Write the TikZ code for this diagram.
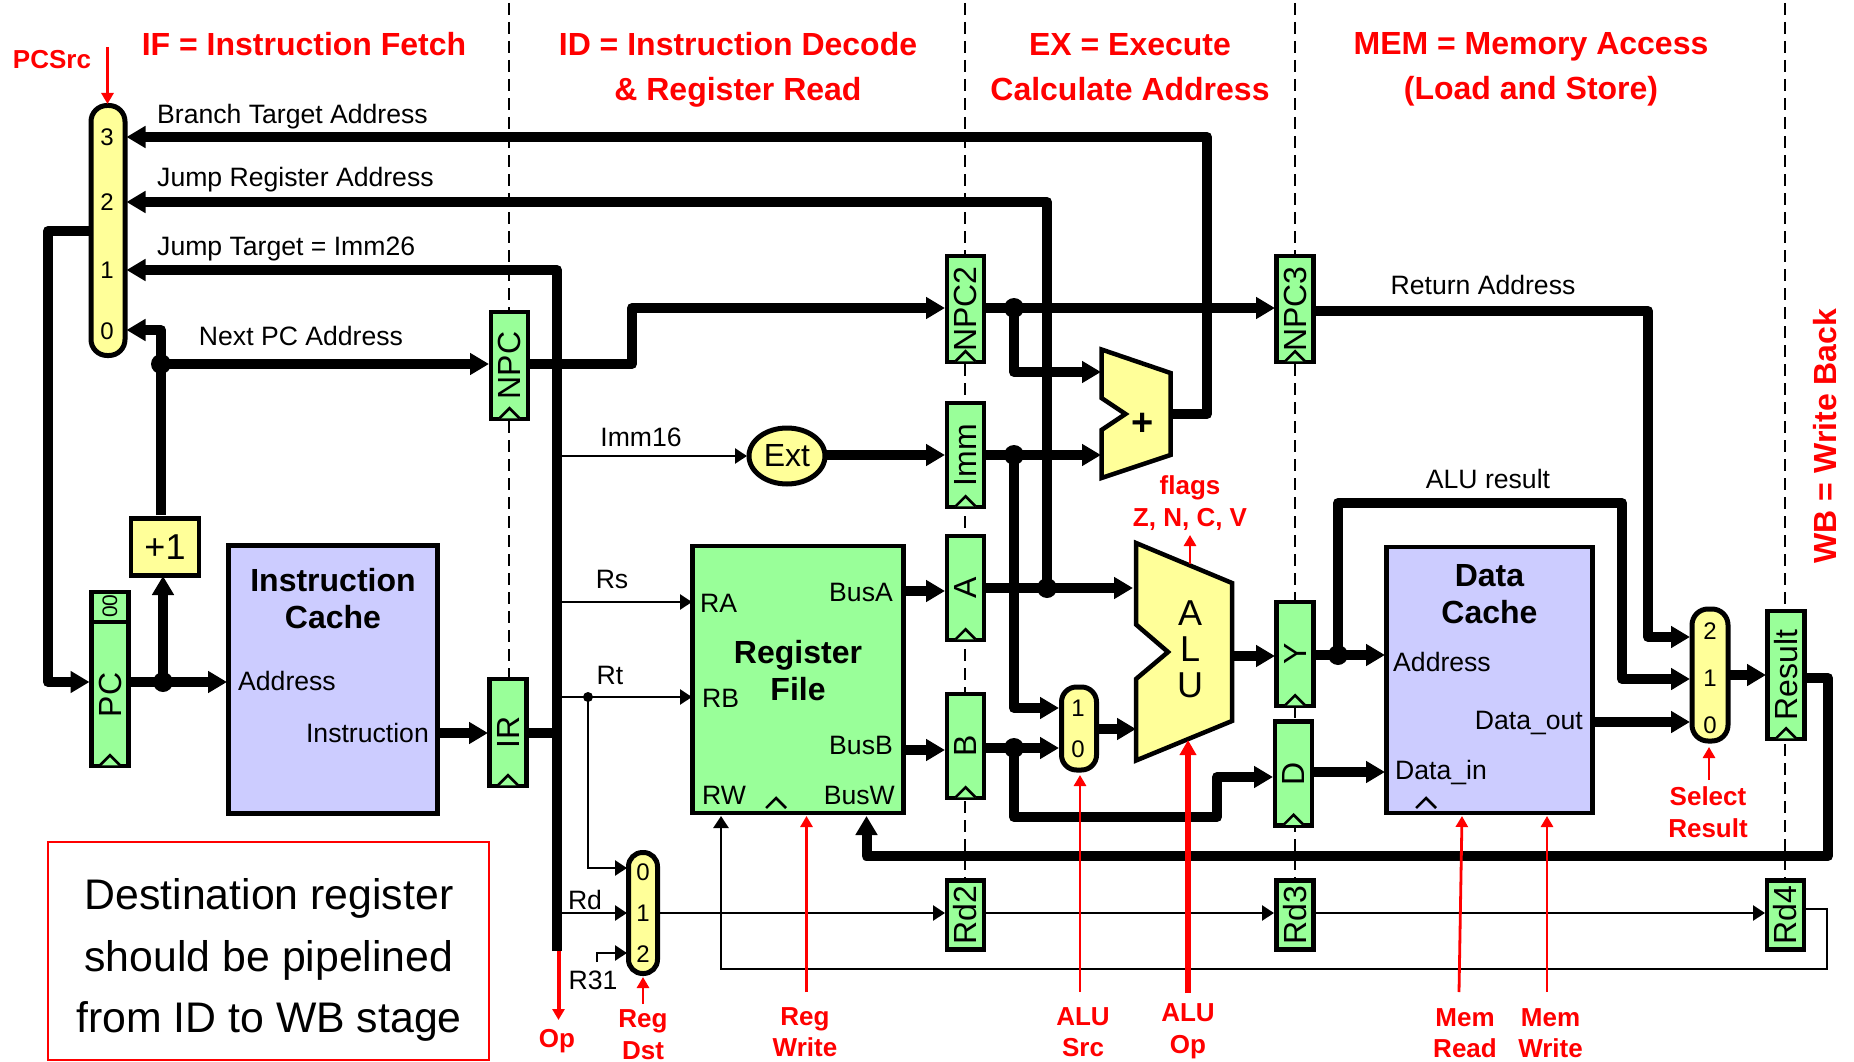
\documentclass[tikz,border=0pt]{standalone}
\usepackage{fontspec}
\setmainfont{Liberation Sans}
\usetikzlibrary{arrows.meta,shapes.geometric}
\definecolor{regg}{HTML}{99FF99}
\definecolor{muxy}{HTML}{FFFF99}
\definecolor{cachec}{HTML}{CCCCFF}
\newcommand{\fs}[2]{\fontsize{#1}{#2}\selectfont}
\newcommand{\clk}[2][regg]{\draw[line width=2.5pt,fill=#1] ([xshift=-10pt,yshift=3pt]#2) -- ([yshift=13pt]#2) -- ([xshift=10pt,yshift=3pt]#2);}
\tikzset{
  x=1pt,y=-1pt,
  stage/.style={black,line width=2.5pt,dash pattern=on 12pt off 7pt},
  reg/.style={draw=black,line width=4.5pt,fill=regg,rectangle,inner sep=0pt,font=\fs{32}{32}},
  mux/.style={draw=black,line width=5pt,fill=muxy,rectangle,inner sep=0pt},
  block/.style={draw=black,line width=4.5pt,rectangle,inner sep=0pt},
  muxnum/.style={font=\fs{24}{24},inner sep=0pt},
  lbl/.style={font=\fs{26.6}{30},inner sep=0pt},
  biglbl/.style={font=\fs{32}{37}\bfseries,inner sep=0pt,align=center},
  title/.style={red,font=\fs{32}{45}\bfseries,inner sep=0pt,align=center},
  ctl/.style={red,font=\fs{26}{31.5}\bfseries,inner sep=0pt,align=center},
  wirebig/.style={line width=10pt,line join=round,-{Triangle[length=19pt,width=21pt]}},
  wirebare/.style={line width=10pt,line join=round},
  wirethin/.style={line width=2.5pt,-{Triangle[length=12pt,width=15pt]}},
  ctlarrow/.style={red,line width=2.8pt,-{Triangle[length=11pt,width=12pt]}},
  dotbig/.style={circle,fill=black,inner sep=0pt,minimum size=20pt},
  dotsmall/.style={circle,fill=black,inner sep=0pt,minimum size=10pt},
}
\begin{document}
\begin{tikzpicture}
\useasboundingbox (0,0) rectangle (1854,1062);
% stage separators
\coordinate (s1t) at (509,3);  \coordinate (s1b) at (509,680);
\coordinate (s2t) at (965,3);  \coordinate (s2b) at (965,880);
\coordinate (s3t) at (1295,3); \coordinate (s3b) at (1295,880);
\coordinate (s4t) at (1785,3); \coordinate (s4b) at (1785,880);
\draw[stage] (s1t) -- (s1b);
\draw[stage] (s2t) -- (s2b);
\draw[stage] (s3t) -- (s3b);
\draw[stage] (s4t) -- (s4b);
% titles
\node[title] (tif) at (304,44) {IF = Instruction Fetch};
\node[title] (tid) at (738,69.5) {ID = Instruction Decode\\\& Register Read};
\node[title] (tex) at (1130,67) {EX = Execute\\Calculate Address};
\node[title] (tmem) at (1531,69.5) {MEM = Memory Access\\(Load and Store)};
\node[title,rotate=90] (twb) at (1825,436) {WB = Write Back};
\node[ctl] (tpcsrc) at (52,60) {PCSrc};
% PC mux
\node[mux,rounded corners=16pt,minimum width=34pt,minimum height=250pt] (pcmux) at (108,230.5) {};
\node[muxnum] (n3) at (107,137) {3};
\node[muxnum] (n2) at (107,202) {2};
\node[muxnum] (n1) at (107,270) {1};
\node[muxnum] (n0) at (107,331) {0};
% registers
\node[reg,minimum width=37pt,minimum height=174pt] (pc) at (110,679) {};
\draw[line width=4.5pt] (pc.north west |- 0,622) -- (pc.north east |- 0,622);
\node[font=\fs{21}{21},inner sep=0pt] (pctwo) at (110,606) {\rotatebox{90}{00}};
\node[font=\fs{32}{32},inner sep=0pt] (pctxt) at (110,695) {\rotatebox{90}{PC}};
\node[reg,minimum width=37pt,minimum height=107pt] (npc) at (509.5,365.5) {\rotatebox{90}{NPC}};
\node[reg,minimum width=37pt,minimum height=107pt] (ir) at (508,732.5) {\rotatebox{90}{IR}};
\node[reg,minimum width=37pt,minimum height=106pt] (npctwo) at (965.5,309) {\rotatebox{90}{NPC2}};
\node[reg,minimum width=37pt,minimum height=104pt] (imm) at (965.5,455) {\rotatebox{90}{Imm}};
\node[reg,minimum width=37pt,minimum height=104pt] (rega) at (965.5,588) {\rotatebox{90}{A}};
\node[reg,minimum width=37pt,minimum height=104pt] (regb) at (965.5,746) {\rotatebox{90}{B}};
\node[reg,minimum width=37pt,minimum height=69pt] (rdtwo) at (965.5,915) {\rotatebox{90}{Rd2}};
\node[reg,minimum width=37pt,minimum height=106pt] (npcthree) at (1295,309) {\rotatebox{90}{NPC3}};
\node[reg,minimum width=37pt,minimum height=104pt] (regy) at (1295,654) {\rotatebox{90}{Y}};
\node[reg,minimum width=37pt,minimum height=104pt] (regd) at (1293.5,773.5) {\rotatebox{90}{D}};
\node[reg,minimum width=37pt,minimum height=69pt] (rdthree) at (1295,915) {\rotatebox{90}{Rd3}};
\node[reg,minimum width=37pt,minimum height=128pt] (result) at (1786,675) {\rotatebox{90}{Result}};
\node[reg,minimum width=37pt,minimum height=69pt] (rdfour) at (1785.5,915) {\rotatebox{90}{Rd4}};
% +1
\node[block,fill=muxy,minimum width=68pt,minimum height=57pt,font=\fs{36}{36}] (plus) at (165,547) {+1};
% instruction cache
\node[block,fill=cachec,minimum width=209pt,minimum height=268pt] (icache) at (333,679.5) {};
\node[biglbl] (ictitle) at (333,599) {Instruction\\Cache};
\node[lbl,anchor=west] (icaddr) at (238,681) {Address};
\node[lbl,anchor=east] (icinstr) at (429,733) {Instruction};
% register file
\node[block,fill=regg,minimum width=211pt,minimum height=267pt] (regfile) at (798,679.5) {};
\node[biglbl] (rftitle) at (798,671) {Register\\File};
\node[lbl,anchor=west] (lra) at (700,603) {RA};
\node[lbl,anchor=west] (lrb) at (702,698) {RB};
\node[lbl,anchor=west] (lrw) at (702,795) {RW};
\node[lbl,anchor=east] (lba) at (893,592) {BusA};
\node[lbl,anchor=east] (lbb) at (893,745) {BusB};
\node[lbl,anchor=east] (lbw) at (895,795) {BusW};
% data cache
\node[block,fill=cachec,minimum width=206pt,minimum height=266pt] (dcache) at (1489.5,680) {};
\node[biglbl] (dctitle) at (1489.5,594.5) {Data\\Cache};
\node[lbl,anchor=west] (dcaddr) at (1393,662) {Address};
\node[lbl,anchor=east] (dcout) at (1583,723) {Data\_out};
\node[lbl,anchor=west] (dcin) at (1395,772) {Data\_in};
% ext
\node[draw=black,line width=5pt,fill=muxy,ellipse,inner sep=0pt,minimum width=76pt,minimum height=56pt,font=\fs{32}{32}] (ext) at (787,456) {Ext};
% other muxes
\node[mux,rounded corners=14pt,minimum width=29pt,minimum height=121pt] (dstmux) at (643,913) {};
\node[muxnum] (d0) at (643,872) {0};
\node[muxnum] (d1) at (643,913) {1};
\node[muxnum] (d2) at (643,954) {2};
\node[mux,rounded corners=15pt,minimum width=35pt,minimum height=83pt] (srcmux) at (1079,728.5) {};
\node[muxnum] (a1) at (1078,708) {1};
\node[muxnum] (a0) at (1078,749) {0};
\node[mux,rounded corners=16pt,minimum width=36pt,minimum height=132pt] (resmux) at (1710,675) {};
\node[muxnum] (r2) at (1710,631) {2};
\node[muxnum] (r1) at (1710,678) {1};
\node[muxnum] (r0) at (1710,725) {0};
% adder and ALU
\draw[line width=4.5pt,fill=muxy,line join=miter] (1101.5,349.5) -- (1170.5,373) -- (1170.5,455) -- (1101.5,478) -- (1101.5,430) -- (1125.5,414) -- (1101.5,398) -- cycle;
\node[font=\fs{38}{38}\bfseries,inner sep=0pt] (addplus) at (1143,424) {+};
\draw[line width=4.5pt,fill=muxy,line join=miter] (1136,543) -- (1232,583) -- (1232,721) -- (1136,760.5) -- (1136,679) -- (1168,652) -- (1136,624.5) -- cycle;
\node[font=\fs{36}{36},inner sep=0pt,align=center] (alutxt) at (1190,649) {A\\L\\U};
% clocks
\clk{pc.south} \clk{npc.south} \clk{ir.south} \clk{npctwo.south} \clk{imm.south}
\clk{rega.south} \clk{regb.south} \clk{npcthree.south} \clk{regy.south} \clk{regd.south} \clk{result.south}
\coordinate (rfclk) at (776,811); \clk{rfclk}
\coordinate (dcclk) at (1426,811); \clk[cachec]{dcclk}
% junctions
\node[dotbig] (jpc) at (163,682) {};
\node[dotbig] (jnext) at (161,364) {};
\node[dotbig] (jnpc) at (1014,308) {};
\node[dotbig] (jimm) at (1014,455) {};
\node[dotbig] (ja) at (1047,588) {};
\node[dotbig] (jb) at (1014,748) {};
\node[dotbig] (jy) at (1338,655) {};
\node[dotsmall] (jrt) at (588,697) {};
% pins and bends
\coordinate (pm3) at (126.5,137);
\coordinate (pm2) at (126.5,202);
\coordinate (pm1) at (126.5,270);
\coordinate (pm0) at (126.5,330);
\coordinate (pml) at (90,231);
\coordinate (lp1) at (48,231);
\coordinate (lp2) at (48,682);
\coordinate (pcin) at (89.5,682);
\coordinate (pcout) at (131,682);
\coordinate (icin) at (227,682);
\coordinate (plusin) at (163,576);
\coordinate (plusout) at (161,515);
\coordinate (nx0) at (161,330);
\coordinate (npcin) at (489,364);
\coordinate (npcout) at (530,364);
\coordinate (npcb1) at (632,364);
\coordinate (npcb2) at (632,308);
\coordinate (ntin) at (945,308);
\coordinate (ntout) at (986,308);
\coordinate (n3in) at (1275,308);
\coordinate (n3out) at (1315,311);
\coordinate (retb1) at (1648,311);
\coordinate (retb2) at (1648,637);
\coordinate (rm2) at (1690,637);
\coordinate (add1) at (1101,372);
\coordinate (add2) at (1101,455);
\coordinate (immin) at (945,455);
\coordinate (immout) at (986,455);
\coordinate (extl) at (747,456);
\coordinate (extr) at (827,455);
\coordinate (addout) at (1170,414);
\coordinate (addb) at (1207,414);
\coordinate (addt) at (1207,137);
\coordinate (jra) at (1047,202);
\coordinate (jimmb) at (1014,708);
\coordinate (sm1) at (1059,708);
\coordinate (sm0) at (1059,748);
\coordinate (srcout) at (1098,729);
\coordinate (alub) at (1136,729);
\coordinate (aluain) at (1133,588);
\coordinate (aouta) at (986,588);
\coordinate (aoutb) at (986,748);
\coordinate (ba) at (905,591);
\coordinate (bain) at (945,591);
\coordinate (bb) at (905,750);
\coordinate (bbin) at (945,750);
\coordinate (bd1) at (1014,817);
\coordinate (bd2) at (1217,817);
\coordinate (bd3) at (1217,777);
\coordinate (dinn) at (1273,777);
\coordinate (dout) at (1314,772);
\coordinate (dcd) at (1385,772);
\coordinate (aluout) at (1232,656);
\coordinate (yin) at (1275,656);
\coordinate (yout) at (1315,655);
\coordinate (dca) at (1385,655);
\coordinate (ya1) at (1338,503);
\coordinate (ya2) at (1622,503);
\coordinate (ya3) at (1622,679);
\coordinate (rm1) at (1690,679);
\coordinate (dco) at (1594,722);
\coordinate (rm0) at (1690,722);
\coordinate (rmo) at (1730,675);
\coordinate (resin) at (1766,675);
\coordinate (resout) at (1806,678);
\coordinate (bw1) at (1828,678);
\coordinate (bw2) at (1828,856);
\coordinate (bw3) at (866.5,856);
\coordinate (bwin) at (866.5,816);
\coordinate (icout) at (439,733);
\coordinate (irin) at (488,733);
\coordinate (irout) at (528,733);
\coordinate (bus) at (557,733);
\coordinate (bustop) at (557,270);
\coordinate (busbot) at (557,951);
\coordinate (busext) at (557,456);
\coordinate (busrs) at (557,602);
\coordinate (busrt) at (557,697);
\coordinate (busrd) at (557,913);
\coordinate (rain) at (692,602);
\coordinate (rbin) at (692,697);
\coordinate (rtd) at (588,868);
\coordinate (dm0) at (627,868);
\coordinate (dm1) at (627,913);
\coordinate (dm2) at (627,953);
\coordinate (r31a) at (597,962);
\coordinate (r31b) at (597,953);
\coordinate (dmo) at (659,913);
\coordinate (rd2in) at (945,913);
\coordinate (rd2out) at (986,913);
\coordinate (rd3in) at (1274,913);
\coordinate (rd3out) at (1315,913);
\coordinate (rd4in) at (1765,913);
\coordinate (rd4out) at (1806,909);
\coordinate (rw1) at (1827,909);
\coordinate (rw2) at (1827,969);
\coordinate (rw3) at (721,969);
\coordinate (rwin) at (721,816);
% data connectors
\draw[wirebig] (addout) -- (addb) -- (addt) -- (pm3);
\draw[wirebig] (ja.center) -- (jra) -- (pm2);
\draw[wirebig] (busbot) -- (bustop) -- (pm1);
\draw[wirebig] (jnext.center) -- (nx0) -- (pm0);
\draw[wirebig] (pml) -- (lp1) -- (lp2) -- (pcin);
\draw[wirebig] (pcout) -- (icin);
\draw[wirebig] (jpc.center) -- (plusin);
\draw[wirebare] (plusout) -- (jnext.center);
\draw[wirebig] (jnext.center) -- (npcin);
\draw[wirebig] (npcout) -- (npcb1) -- (npcb2) -- (ntin);
\draw[wirebig] (ntout) -- (n3in);
\draw[wirebig] (jnpc.center) |- (add1);
\draw[wirebig] (immout) -- (add2);
\draw[wirebig] (jimm.center) -- (jimmb) -- (sm1);
\draw[wirebig] (extr) -- (immin);
\draw[wirebig] (ba) -- (bain);
\draw[wirebig] (bb) -- (bbin);
\draw[wirebig] (aouta) -- (aluain);
\draw[wirebig] (aoutb) -- (sm0);
\draw[wirebig] (jb.center) -- (bd1) -- (bd2) -- (bd3) -- (dinn);
\draw[wirebig] (srcout) -- (alub);
\draw[wirebig] (aluout) -- (yin);
\draw[wirebig] (yout) -- (dca);
\draw[wirebig] (dout) -- (dcd);
\draw[wirebig] (jy.center) -- (ya1) -- (ya2) -- (ya3) -- (rm1);
\draw[wirebig] (n3out) -- (retb1) -- (retb2) -- (rm2);
\draw[wirebig] (dco) -- (rm0);
\draw[wirebig] (rmo) -- (resin);
\draw[wirebig] (resout) -- (bw1) -- (bw2) -- (bw3) -- (bwin);
\draw[wirebig] (icout) -- (irin);
\draw[wirebare] (irout) -- (bus);
\draw[wirethin] (busext) -- (extl);
\draw[wirethin] (busrs) -- (rain);
\draw[wirethin] (busrt) -- (rbin);
\draw[wirethin] (jrt.center) -- (rtd) -- (dm0);
\draw[wirethin] (busrd) -- (dm1);
\draw[wirethin] (r31a) -- (r31b) -- (dm2);
\draw[wirethin] (dmo) -- (rd2in);
\draw[wirethin] (rd2out) -- (rd3in);
\draw[wirethin] (rd3out) -- (rd4in);
\draw[wirethin] (rd4out) -- (rw1) -- (rw2) -- (rw3) -- (rwin);
% wire labels
\node[lbl,anchor=west] (lbta) at (157,117) {Branch Target Address};
\node[lbl,anchor=west] (ljra) at (157,179.5) {Jump Register Address};
\node[lbl,anchor=west] (ljta) at (157,249) {Jump Target = Imm26};
\node[lbl] (lnpa) at (301,336) {Next PC Address};
\node[lbl] (limm) at (641,437) {Imm16};
\node[lbl] (lrs) at (612,579) {Rs};
\node[lbl] (lrt) at (610,675) {Rt};
\node[lbl] (lrd) at (585,900) {Rd};
\node[lbl] (lrtt) at (593,980) {R31};
\node[lbl] (lret) at (1483,285) {Return Address};
\node[lbl] (lalur) at (1488,479) {ALU result};
% control labels
\node[ctl] (cflags) at (1190,503) {flags\\Z, N, C, V};
\node[ctl] (cop) at (557,1041) {Op};
\node[ctl] (cdst) at (643,1034.5) {Reg\\Dst};
\node[ctl] (cwrite) at (805,1032) {Reg\\Write};
\node[ctl] (csrc) at (1083,1032) {ALU\\Src};
\node[ctl] (caop) at (1188,1031) {ALU\\Op};
\node[ctl] (cmr) at (1465,1033) {Mem\\Read};
\node[ctl] (cmw) at (1550.5,1033) {Mem\\Write};
\node[ctl] (csel) at (1708,812) {Select\\Result};
% control arrows
\coordinate (pcs1) at (107.5,47);  \coordinate (pcs2) at (107.5,104);
\coordinate (fl1) at (1190,564);   \coordinate (fl2) at (1190,535);
\coordinate (op1) at (558.5,951);  \coordinate (op2) at (558.5,1020);
\coordinate (ds1) at (643,1004);   \coordinate (ds2) at (643,977);
\coordinate (rg1) at (806.5,992);  \coordinate (rg2) at (806.5,816);
\coordinate (as1) at (1080,992);   \coordinate (as2) at (1080,775);
\coordinate (ao1) at (1188,993);   \coordinate (ao2) at (1188,740);
\coordinate (mr1) at (1459,992);   \coordinate (mr2) at (1462,816);
\coordinate (mw1) at (1547,992);   \coordinate (mw2) at (1547,816);
\coordinate (se1) at (1709,780);   \coordinate (se2) at (1709,747);
\draw[ctlarrow] (pcs1) -- (pcs2);
\draw[ctlarrow] (fl1) -- (fl2);
\draw[ctlarrow,line width=4pt] (op1) -- (op2);
\draw[ctlarrow] (ds1) -- (ds2);
\draw[ctlarrow] (rg1) -- (rg2);
\draw[ctlarrow] (as1) -- (as2);
\draw[ctlarrow,line width=5.5pt,-{Triangle[length=15pt,width=16pt]}] (ao1) -- (ao2);
\draw[ctlarrow] (mr1) -- (mr2);
\draw[ctlarrow] (mw1) -- (mw2);
\draw[ctlarrow] (se1) -- (se2);
% note
\node[draw=red,line width=2.5pt,rectangle,inner sep=0pt,minimum width=441pt,minimum height=218pt] (notebox) at (268.5,951) {};
\node[font=\fs{42.8}{61.5},inner sep=0pt,align=center] (notetxt) at (269,960) {Destination register\\should be pipelined\\from ID to WB stage};
\end{tikzpicture}
\end{document}
